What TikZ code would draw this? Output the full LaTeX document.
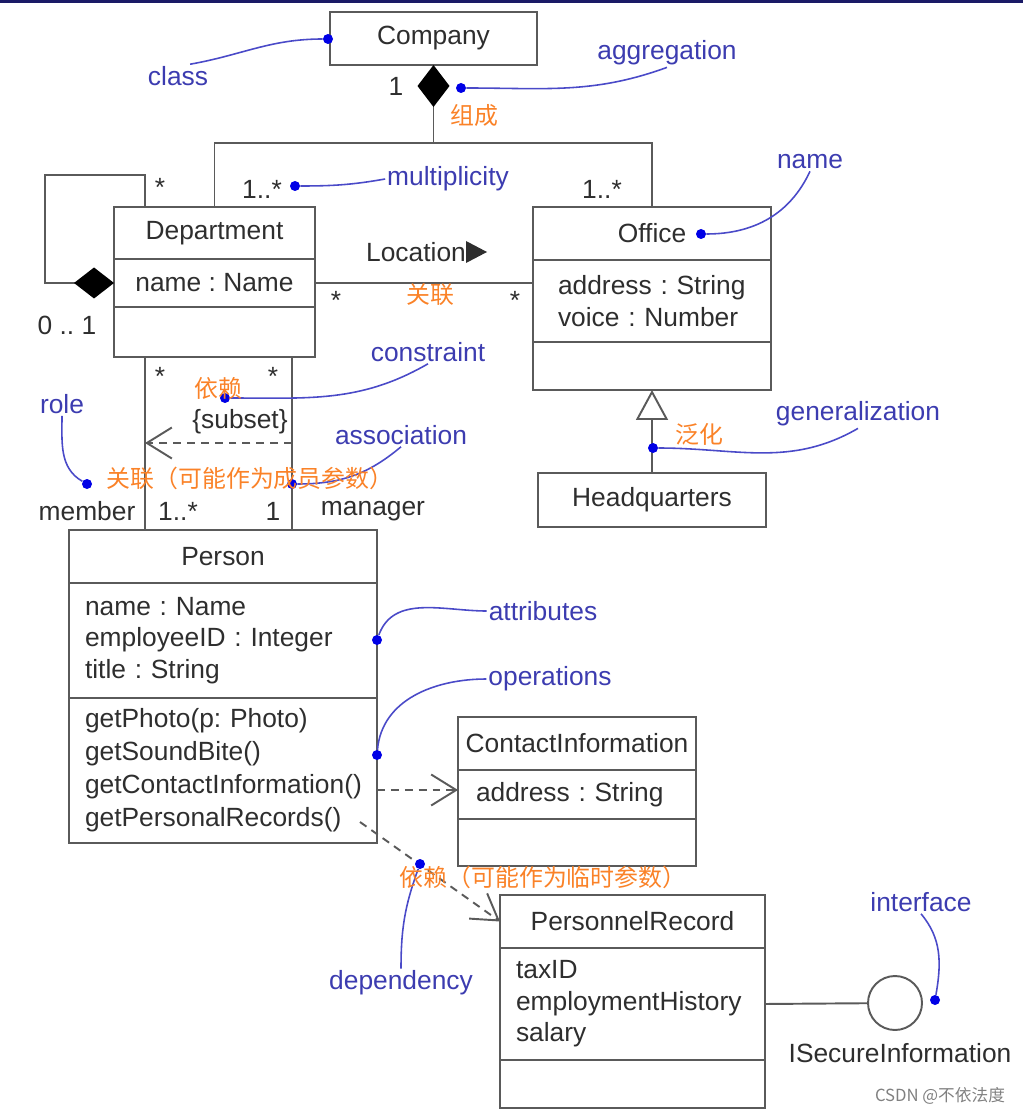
\documentclass[tikz,border=0pt]{standalone}
\usepackage{fontspec}
\setmainfont{Liberation Sans}
\newfontfamily\cjk{Noto Sans CJK SC}
\usetikzlibrary{positioning,arrows.meta}
\frenchspacing

\definecolor{umlgray}{HTML}{5A5A5A}
\definecolor{umltext}{HTML}{2E2E2E}
\definecolor{annoblue}{HTML}{3C3CB0}
\definecolor{annoline}{HTML}{4A4AC8}
\definecolor{dotblue}{HTML}{0000E6}
\definecolor{cnorange}{HTML}{FA8228}
\definecolor{topbar}{HTML}{1A1A66}

\newcommand\umlsize{\fontsize{15}{18}\selectfont}
\newcommand\opsize{\fontsize{15}{18.7}\selectfont}
\newcommand\cnsize{\cjk\fontsize{13.6}{16}\selectfont}

\tikzset{
  cls/.style={draw=umlgray, line width=1.1pt, inner sep=0pt, outer sep=0pt, font=\umlsize, text=umltext},
  clsleft/.style={cls, align=left, inner xsep=0.32cm},
  assoc/.style={draw=umlgray, line width=1.1pt},
  dep/.style={assoc, dash pattern=on 4.5pt off 3.4pt, -{Straight Barb[length=0.5cm, width=0.62cm]}},
  mult/.style={font=\umlsize, text=umltext, inner sep=1pt},
  annotext/.style={font=\umlsize, text=annoblue, inner sep=1pt},
  annodot/.style={circle, fill=dotblue, inner sep=0pt, minimum size=0.2cm},
  annocurve/.style={draw=annoline, line width=0.9pt},
  cnlabel/.style={font=\cnsize, text=cnorange, inner sep=0pt}
}

\begin{document}
\begin{tikzpicture}[x=0.02cm, y=-0.02cm]
\useasboundingbox (0,0) rectangle (1023,1114);
\fill[topbar] (0,0) rectangle (1023,3);

% Classes
\node[cls, minimum width=4.14cm, minimum height=1.06cm] (company) at (433.5,38.5) {Company};

\node[cls, minimum width=4.02cm, minimum height=1.04cm] (dept) at (214.5,233) {Department};
\node[cls, below=0pt of dept, minimum width=4.02cm, minimum height=0.96cm] (dept-attr) {name : Name};
\node[cls, below=0pt of dept-attr, minimum width=4.02cm, minimum height=1.0cm] (dept-ops) {};

\node[cls, minimum width=4.76cm, minimum height=1.06cm] (office) at (652,233.5) {Office};
\node[clsleft, below=0pt of office, inner xsep=0.5cm, text width=3.76cm, minimum height=1.64cm] (office-attr) {address : String\\voice : Number};
\node[cls, below=0pt of office-attr, minimum width=4.76cm, minimum height=0.96cm] (office-ops) {};

\node[cls, minimum width=4.56cm, minimum height=1.08cm] (hq) at (652,500) {Headquarters};

\node[cls, minimum width=6.16cm, minimum height=1.06cm] (person) at (223,556.5) {Person};
\node[clsleft, below=0pt of person, text width=5.52cm, minimum height=2.3cm] (person-attr) {name : Name\\employeeID : Integer\\title : String};
\node[clsleft, below=0pt of person-attr, text width=5.52cm, minimum height=2.9cm, font=\opsize] (person-ops) {getPhoto(p: Photo)\\getSoundBite()\\getContactInformation()\\getPersonalRecords()};

\node[cls, minimum width=4.76cm, minimum height=1.06cm] (ci) at (577,743.5) {ContactInformation};
\node[clsleft, below=0pt of ci, inner xsep=0.36cm, text width=4.04cm, minimum height=0.98cm] (ci-attr) {address : String};
\node[cls, below=0pt of ci-attr, minimum width=4.76cm, minimum height=0.94cm] (ci-ops) {};

\node[cls, minimum width=5.3cm, minimum height=1.06cm] (pr) at (632.5,921.5) {PersonnelRecord};
\node[clsleft, below=0pt of pr, text width=4.66cm, minimum height=2.24cm] (pr-attr) {taxID\\employmentHistory\\salary};
\node[cls, below=0pt of pr-attr, minimum width=5.3cm, minimum height=0.96cm] (pr-ops) {};

\node[circle, draw=umlgray, line width=1.1pt, minimum size=1.08cm, inner sep=0pt] (iface) at (895,1003) {};

% Relations
\coordinate (fork) at (433.5,143);
\draw[assoc, {Diamond[length=0.84cm, width=0.64cm, color=black]}-] (company.south) -- (fork);
\draw[assoc] (dept.north) |- (fork) -| (office.north);

\coordinate (loopcorner) at (45,175);
\draw[assoc, -{Diamond[length=0.8cm, width=0.62cm, color=black]}] ([xshift=-1.39cm]dept.north) |- (loopcorner) |- (dept-attr.west);

\draw[assoc] (dept-attr.east) -- (dept-attr.east -| office-attr.west);
\fill[umltext] (466,241) -- (487,252) -- (466,263) -- cycle;

\coordinate (memb-top) at ([xshift=-1.39cm]dept-ops.south);
\coordinate (mgr-top) at ([xshift=1.55cm]dept-ops.south);
\draw[assoc] (memb-top) -- (memb-top |- person.north);
\draw[assoc] (mgr-top) -- (mgr-top |- person.north);
\coordinate (subset-r) at (292,443);
\draw[dep] (subset-r) -- (subset-r -| memb-top);

\draw[assoc, -{Triangle[length=0.6cm, width=0.64cm, fill=white]}] (hq) -- (office-ops);

\coordinate (gci-end) at (377,790);
\draw[dep] (gci-end) -- (gci-end -| ci-attr.west);
\coordinate (gpr-end) at (360,822);
\draw[dep] (gpr-end) -- (pr.west);

\draw[assoc] (pr-attr.east) -- (iface);

% Multiplicities and roles
\node[mult] (m-company) at (396,86) {1};
\node[mult] (m-self) at (160,187) {*};
\node[mult] (m-self01) at (67,325) {0 .. 1};
\node[mult] (m-dept) at (262,189) {1..*};
\node[mult] (m-office) at (602,189) {1..*};
\node[mult] (t-location) at (416,252) {Location};
\node[mult] (m-locl) at (336,300) {*};
\node[mult] (m-locr) at (515,300) {*};
\node[mult] (m-membtop) at (160,376) {*};
\node[mult] (m-mgrtop) at (273,376) {*};
\node[mult] (t-subset) at (240,422) {\{subset\}};
\node[mult] (r-member) at (87,511) {member};
\node[mult] (m-member) at (178,511) {1..*};
\node[mult] (m-manager) at (273,511) {1};
\node[mult] (r-manager) at (373,511) {manager};
\node[mult] (t-iface) at (900,1053) {ISecureInformation};

% Annotations
\node[annotext] (l-class) at (178,76) {class};
\node[annotext] (l-agg) at (667,53) {aggregation};
\node[annotext] (l-mult) at (448,179) {multiplicity};
\node[annotext] (l-name) at (810,162) {name};
\node[annotext] (l-cons) at (428,352) {constraint};
\node[annotext] (l-role) at (62,404) {role};
\node[annotext] (l-assoc) at (401,435) {association};
\node[annotext] (l-gen) at (858,414) {generalization};
\node[annotext] (l-attr) at (543,611) {attributes};
\node[annotext] (l-ops) at (550,679) {operations};
\node[annotext] (l-dep) at (401,983) {dependency};
\node[annotext] (l-iface) at (921,902) {interface};

\node[annodot] (d-class) at (328,39) {};
\node[annodot] (d-agg) at (461,88) {};
\node[annodot] (d-mult) at (295,186) {};
\node[annodot] (d-name) at (701,234) {};
\node[annodot] (d-cons) at (225,398) {};
\node[annodot] (d-role) at (87,484) {};
\node[annodot] (d-assoc) at (292,484) {};
\node[annodot] (d-gen) at (653,448) {};
\node[annodot] (d-attr) at (377,640) {};
\node[annodot] (d-ops) at (377,755) {};
\node[annodot] (d-dep) at (420,864) {};
\node[annodot] (d-iface) at (935,1000) {};

\draw[annocurve] (d-class) to[out=180, in=10] ([xshift=-0.4cm]l-class.north east);
\draw[annocurve] (d-agg) to[out=0, in=200] (l-agg.south);
\draw[annocurve] (d-mult) to[out=0, in=190] (l-mult.west);
\draw[annocurve] (d-name) to[out=0, in=-115] (l-name.south);
\draw[annocurve] (d-cons) to[out=0, in=210] (l-cons.south);
\draw[annocurve] (l-role.south) to[out=-90, in=150] (d-role);
\draw[annocurve] (d-assoc) to[out=0, in=220] (l-assoc.south);
\draw[annocurve] (d-gen) to[out=0, in=-150] (l-gen.south);
\draw[annocurve] (d-attr) to[out=70, in=180] (l-attr.west);
\draw[annocurve] (d-ops) to[out=85, in=180] (l-ops.west);
\draw[annocurve] (l-dep.north) to[out=90, in=-110] (d-dep);
\draw[annocurve] (l-iface.south) to[out=-50, in=80] (d-iface);

% Chinese notes
\node[cnlabel] (cn-compose) at (474,116) {组成};
\node[cnlabel] (cn-loc) at (430,295) {关联};
\node[cnlabel] (cn-dep1) at (218,388) {依赖};
\node[cnlabel] (cn-assoc) at (250,478) {关联（可能作为成员参数）};
\node[cnlabel] (cn-gen) at (699,434) {泛化};
\node[cnlabel] (cn-dep2) at (543,877) {依赖（可能作为临时参数）};

\node[font=\cjk\fontsize{9.5}{11}\selectfont, text=gray, inner sep=0pt] (watermark) at (940,1096) {CSDN @不依法度};
\end{tikzpicture}
\end{document}
